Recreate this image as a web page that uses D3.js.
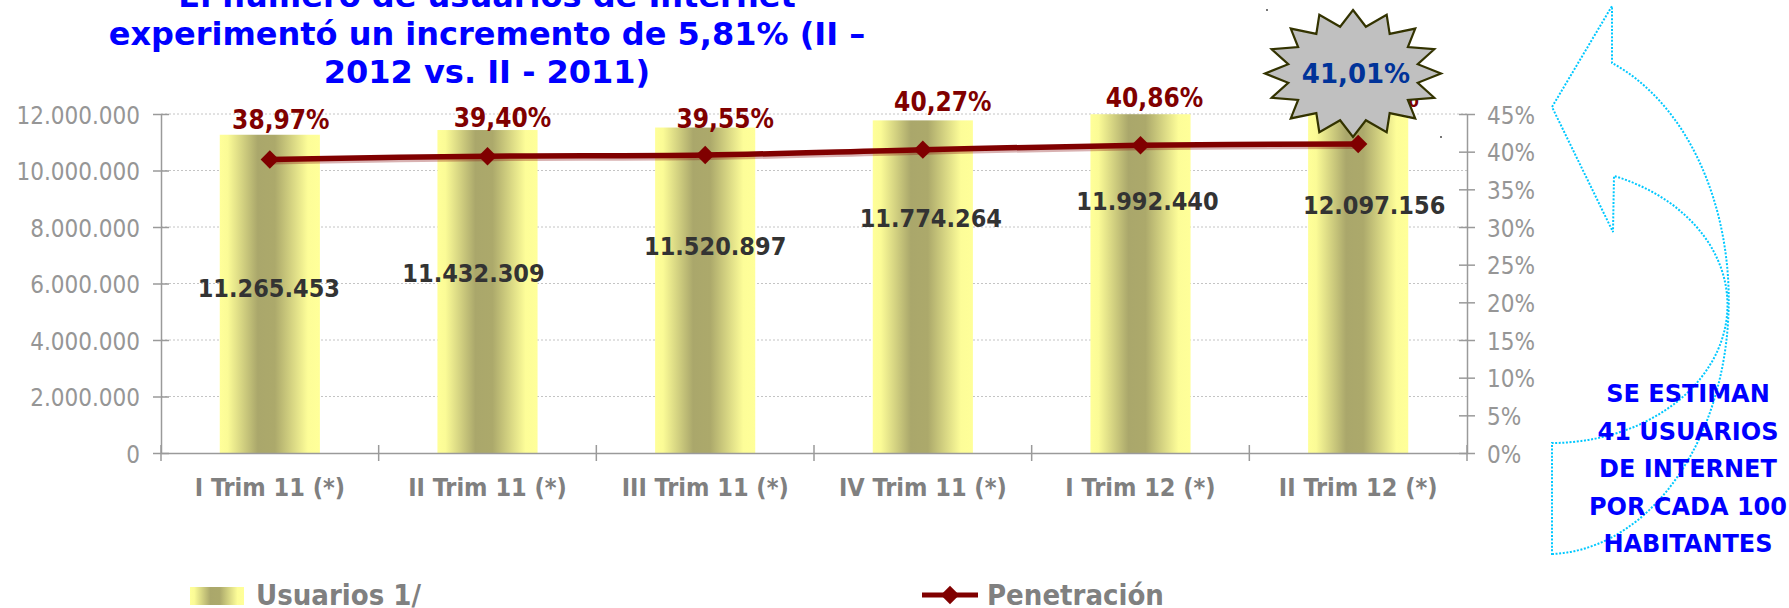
<!DOCTYPE html>
<html>
<head>
<meta charset="utf-8">
<script src="https://cdn.jsdelivr.net/npm/d3@7"></script>
<style>
  html, body { margin: 0; padding: 0; background: #fff; overflow: hidden; }
  svg { display: block; }
  .cond { font-family: "DejaVu Sans Condensed", "DejaVu Sans", sans-serif; font-stretch: condensed; }
  .reg { font-family: "DejaVu Sans", sans-serif; }
</style>
</head>
<body>
<svg id="chart" width="1789" height="608"></svg>
<script>
// ------------------------------------
// Data
// ------------------------------------
const categories = ["I Trim 11 (*)", "II Trim 11 (*)", "III Trim 11 (*)", "IV Trim 11 (*)", "I Trim 12 (*)", "II Trim 12 (*)"];
const usuarios = [11265453, 11432309, 11520897, 11774264, 11992440, 12097156];
const penetracion = [38.97, 39.40, 39.55, 40.27, 40.86, 41.01];
const leftTicks = [0, 2000000, 4000000, 6000000, 8000000, 10000000, 12000000];
const rightTicks = [0, 5, 10, 15, 20, 25, 30, 35, 40, 45];
const titleLines = ["El número de usuarios de Internet", "experimentó un incremento de 5,81% (II –", "2012 vs. II - 2011)"];
const noteLines = ["SE ESTIMAN", "41 USUARIOS", "DE INTERNET", "POR CADA 100", "HABITANTES"];
const highlightText = "41,01%";
const legendNames = ["Usuarios 1/", "Penetración"];

// hand-placed label offsets (px), like the source chart
const valueNudge = [[-1, 162], [-14, 152], [10, 127], [8, 107], [7, 96], [16, 103]];
const pctNudge = [[11, -30], [15, -29], [20, -27], [20, -39], [14, -38], [12, -37]];

// ------------------------------------
// Setup
// ------------------------------------
const svg = d3.select("#chart");
const plot = { left: 161, right: 1467, top: 114, bottom: 453 };
const axisColor = "#9a9a9a";
const tickColor = "#969696";
const red = "#800000";

const es = d3.formatLocale({ decimal: ",", thousands: ".", grouping: [3], currency: ["", ""] });
const fmtInt = es.format(",d");
const fmtPct = v => es.format(".2f")(v) + "%";

const x = d3.scaleBand()
  .domain(categories)
  .range([plot.left, plot.right])
  .paddingInner(0.54)
  .paddingOuter(0.27);
const cx = i => x(categories[i]) + x.bandwidth() / 2;

const yL = d3.scaleLinear().domain([0, 12000000]).range([plot.bottom, plot.top]);
const yR = d3.scaleLinear().domain([0, 45]).range([plot.bottom, plot.top]);

// gradient for the bars
const defs = svg.append("defs");
const grad = defs.append("linearGradient").attr("id", "barGrad")
  .attr("x1", 0).attr("x2", 1).attr("y1", 0).attr("y2", 0);
[[0, "#ffff99"], [0.08, "#fbfb96"], [0.38, "#aaa76b"], [0.55, "#aca96b"], [0.88, "#fdfd98"], [1, "#ffff99"]]
  .forEach(s => grad.append("stop").attr("offset", s[0]).attr("stop-color", s[1]));

// ------------------------------------
// Gridlines
// ------------------------------------
svg.append("g").selectAll("line")
  .data(leftTicks.filter(d => d > 0))
  .join("line")
  .attr("x1", plot.left).attr("x2", plot.right)
  .attr("y1", d => yL(d)).attr("y2", d => yL(d))
  .attr("stroke", "#c4c4c4")
  .attr("stroke-width", 1)
  .attr("stroke-dasharray", "2,2");

// ------------------------------------
// Bars
// ------------------------------------
svg.append("g").selectAll("rect")
  .data(usuarios)
  .join("rect")
  .attr("x", (d, i) => x(categories[i]))
  .attr("y", d => yL(d))
  .attr("width", x.bandwidth())
  .attr("height", d => yL(0) - yL(d))
  .attr("fill", "url(#barGrad)");

// ------------------------------------
// Axes
// ------------------------------------
const axL = svg.append("g")
  .attr("transform", `translate(${plot.left},0)`)
  .call(d3.axisLeft(yL).tickValues(leftTicks).tickFormat(fmtInt).tickSize(0).tickPadding(21));
axL.select(".domain").attr("stroke", axisColor).attr("stroke-width", 1.5);
axL.selectAll(".tick line").attr("x1", -8).attr("x2", 8).attr("stroke", axisColor).attr("stroke-width", 1.5);
axL.selectAll(".tick text").attr("class", "cond").attr("font-size", 24).attr("fill", tickColor).attr("dy", "0.38em");

const axR = svg.append("g")
  .attr("transform", `translate(${plot.right},0)`)
  .call(d3.axisRight(yR).tickValues(rightTicks).tickFormat(d => d + "%").tickSize(0).tickPadding(20));
axR.select(".domain").attr("stroke", axisColor).attr("stroke-width", 1.5);
axR.selectAll(".tick line").attr("x1", -8).attr("x2", 8).attr("stroke", axisColor).attr("stroke-width", 1.5);
axR.selectAll(".tick text").attr("class", "cond").attr("font-size", 24).attr("fill", tickColor).attr("dy", "0.38em");

const axB = svg.append("g")
  .attr("transform", `translate(0,${plot.bottom})`)
  .call(d3.axisBottom(x).tickSize(0).tickPadding(25));
axB.select(".domain").attr("stroke", axisColor).attr("stroke-width", 1.5);
axB.selectAll(".tick text").attr("class", "cond").attr("font-size", 25)
  .attr("font-weight", "bold").attr("fill", "#808080");

// category boundary ticks (cross)
svg.append("g").selectAll("line")
  .data(d3.range(categories.length + 1))
  .join("line")
  .attr("x1", i => plot.left + i * x.step())
  .attr("x2", i => plot.left + i * x.step())
  .attr("y1", plot.bottom - 8).attr("y2", plot.bottom + 8)
  .attr("stroke", axisColor).attr("stroke-width", 1.5);

// ------------------------------------
// Penetration line
// ------------------------------------
const line = d3.line()
  .x((d, i) => cx(i))
  .y(d => yR(d))
  .curve(d3.curveCatmullRom);

svg.append("path")
  .datum(penetracion)
  .attr("fill", "none")
  .attr("stroke", "rgba(128,0,0,0.3)")
  .attr("stroke-width", 5)
  .attr("transform", "translate(1,2.5)")
  .attr("d", line);

svg.append("path")
  .datum(penetracion)
  .attr("fill", "none")
  .attr("stroke", red)
  .attr("stroke-width", 5.5)
  .attr("d", line);

const diamond = d3.symbol(d3.symbolSquare, 170);
svg.append("g").selectAll("path")
  .data(penetracion)
  .join("path")
  .attr("d", diamond)
  .attr("transform", (d, i) => `translate(${cx(i)},${yR(d)}) rotate(45)`)
  .attr("fill", red);

// ------------------------------------
// Data labels
// ------------------------------------
svg.append("g").selectAll("text")
  .data(usuarios)
  .join("text")
  .attr("class", "cond")
  .attr("x", (d, i) => cx(i) + valueNudge[i][0])
  .attr("y", (d, i) => yL(d) + valueNudge[i][1])
  .attr("text-anchor", "middle")
  .attr("font-size", 25)
  .attr("font-weight", "bold")
  .attr("fill", "#333333")
  .text(d => fmtInt(d));

svg.append("g").selectAll("text")
  .data(penetracion)
  .join("text")
  .attr("class", "cond")
  .attr("x", (d, i) => cx(i) + pctNudge[i][0])
  .attr("y", (d, i) => yR(d) + pctNudge[i][1])
  .attr("text-anchor", "middle")
  .attr("font-size", 26)
  .attr("font-weight", "bold")
  .attr("fill", red)
  .text(d => fmtPct(d));

// ------------------------------------
// Starburst callout
// ------------------------------------
const star = { x: 1353, y: 73.5, rx: 88, ry: 63.5 };
const starPts = d3.range(32).map(k => {
  const a = -Math.PI / 2 + k * Math.PI / 16;
  const r = k % 2 === 0 ? 1 : 0.75;
  return [star.x + star.rx * r * Math.cos(a), star.y + star.ry * r * Math.sin(a)];
});
svg.append("path")
  .attr("d", d3.line().curve(d3.curveLinearClosed)(starPts))
  .attr("fill", "#c0c0c0")
  .attr("stroke", "#333300")
  .attr("stroke-width", 2.2)
  .attr("stroke-linejoin", "miter");
svg.append("text")
  .attr("class", "reg")
  .attr("x", star.x + 3).attr("y", 83)
  .attr("text-anchor", "middle")
  .attr("font-size", 26)
  .attr("font-weight", "bold")
  .attr("fill", "#003399")
  .text(highlightText);

// selection specks left on the picture
svg.append("g").selectAll("rect")
  .data([[1266, 9], [1440, 136]])
  .join("rect")
  .attr("x", d => d[0]).attr("y", d => d[1])
  .attr("width", 2).attr("height", 2)
  .attr("fill", "#777");

// ------------------------------------
// Curved arrow + note
// ------------------------------------
svg.append("path")
  .attr("d", "M1552,554 A182,254 0 0 0 1612,63 L1612,6 L1552,107 L1613,232 L1614,176 A176,138 0 0 1 1552,443 Z")
  .attr("fill", "none")
  .attr("stroke", "#00c8ff")
  .attr("stroke-width", 2)
  .attr("stroke-dasharray", "2,1.6");

svg.append("g").selectAll("text")
  .data(noteLines)
  .join("text")
  .attr("class", "reg")
  .attr("x", 1688)
  .attr("y", (d, i) => 402 + i * 37.6)
  .attr("text-anchor", "middle")
  .attr("font-size", 24)
  .attr("font-weight", "bold")
  .attr("fill", "#0000ff")
  .text(d => d);

// ------------------------------------
// Title
// ------------------------------------
svg.append("g").selectAll("text")
  .data(titleLines)
  .join("text")
  .attr("class", "reg")
  .attr("x", 487)
  .attr("y", (d, i) => 6.7 + i * 38.3)
  .attr("text-anchor", "middle")
  .attr("font-size", 32)
  .attr("font-weight", "bold")
  .attr("fill", "#0000ff")
  .text(d => d);

// ------------------------------------
// Legend
// ------------------------------------
const legend = svg.append("g");
legend.append("rect")
  .attr("x", 190).attr("y", 587).attr("width", 54).attr("height", 18)
  .attr("fill", "url(#barGrad)");
legend.append("text")
  .attr("class", "cond")
  .attr("x", 256).attr("y", 605)
  .attr("font-size", 29).attr("font-weight", "bold").attr("fill", "#808080")
  .text(legendNames[0]);

legend.append("line")
  .attr("x1", 922).attr("x2", 978).attr("y1", 595).attr("y2", 595)
  .attr("stroke", red).attr("stroke-width", 5);
legend.append("path")
  .attr("d", diamond)
  .attr("transform", "translate(950,595) rotate(45)")
  .attr("fill", red);
legend.append("text")
  .attr("class", "cond")
  .attr("x", 987).attr("y", 605)
  .attr("font-size", 29).attr("font-weight", "bold").attr("fill", "#808080")
  .text(legendNames[1]);
</script>
</body>
</html>
